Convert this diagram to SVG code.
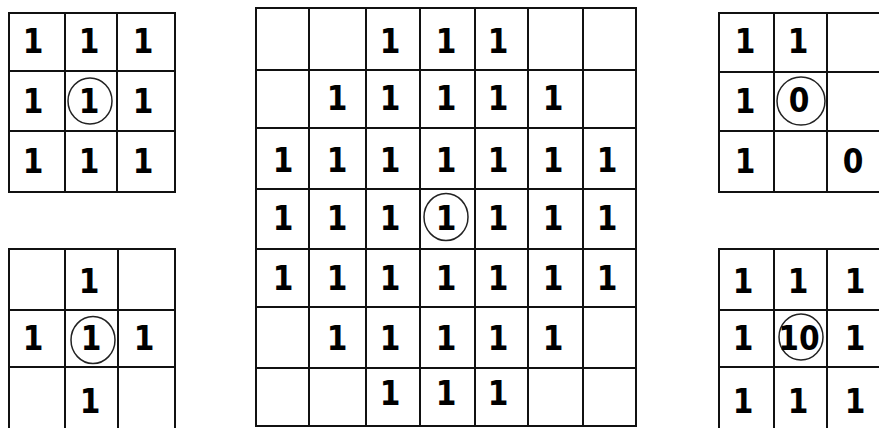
<svg xmlns="http://www.w3.org/2000/svg" width="879" height="428" viewBox="0 0 879 428">
<style>
.g{fill:none;stroke:#111;stroke-width:2}
.c{fill:none;stroke:#222;stroke-width:1.5}
.n circle{fill:#bbb}
text{font-family:"DejaVu Sans","Liberation Sans",sans-serif;font-weight:bold;font-stretch:condensed;font-size:33px;fill:#000;text-anchor:middle}
</style>
<rect width="879" height="428" fill="#fff"/>
<g id="grid-top-left">
<path class="g" d="M9,13H175V192H9Z M65,13V192 M117,13V192 M9,71H175 M9,131H175"/>
<ellipse class="c" cx="90" cy="101" rx="22" ry="23"/>
<text x="33" y="53">1</text><text x="89" y="53">1</text><text x="143" y="53">1</text>
<text x="33" y="113">1</text><text x="89" y="113">1</text><text x="143" y="113">1</text>
<text x="33" y="173">1</text><text x="89" y="173">1</text><text x="143" y="173">1</text>
</g>
<g id="grid-bottom-left">
<path class="g" d="M9,430V249H175V430 M65,249V430 M118,249V430 M9,310H175 M9,367H175"/>
<ellipse class="c" cx="93" cy="340" rx="22" ry="23.5"/>
<text x="89" y="293">1</text>
<text x="33" y="350">1</text><text x="91" y="350">1</text><text x="144" y="350">1</text>
<text x="90" y="413">1</text>
</g>
<g id="grid-middle">
<path class="g" d="M256,8H636V426H256Z M309,8V426 M366,8V426 M420,8V426 M475,8V426 M528,8V426 M583,8V426 M256,70H636 M256,128H636 M256,189H636 M256,249H636 M256,307H636 M256,368H636"/>
<ellipse class="c" cx="446" cy="217" rx="22" ry="23.5"/>
<text x="390" y="53">1</text><text x="446" y="53">1</text><text x="498" y="53">1</text>
<text x="337" y="110">1</text><text x="390" y="110">1</text><text x="446" y="110">1</text><text x="498" y="110">1</text><text x="553" y="110">1</text>
<text x="283" y="172">1</text><text x="337" y="172">1</text><text x="390" y="172">1</text><text x="446" y="172">1</text><text x="498" y="172">1</text><text x="553" y="172">1</text><text x="607" y="172">1</text>
<text x="283" y="230">1</text><text x="337" y="230">1</text><text x="390" y="230">1</text><text x="446" y="230">1</text><text x="498" y="230">1</text><text x="553" y="230">1</text><text x="607" y="230">1</text>
<text x="283" y="290">1</text><text x="337" y="290">1</text><text x="390" y="290">1</text><text x="446" y="290">1</text><text x="498" y="290">1</text><text x="553" y="290">1</text><text x="607" y="290">1</text>
<text x="337" y="350">1</text><text x="390" y="350">1</text><text x="446" y="350">1</text><text x="498" y="350">1</text><text x="553" y="350">1</text>
<text x="390" y="405">1</text><text x="446" y="405">1</text><text x="498" y="405">1</text>
</g>
<g id="grid-top-right">
<path class="g" d="M882,13H719V192H882 M774,13V192 M827,13V192 M719,72H882 M719,131H882"/>
<ellipse class="c" cx="801" cy="101" rx="24" ry="24"/>
<text x="745" y="53">1</text><text x="798" y="53">1</text>
<text x="745" y="113">1</text><text x="799" y="112">0</text>
<text x="745" y="173">1</text><text x="853" y="173">0</text>
</g>
<g id="grid-bottom-right">
<path class="g" d="M882,249H719V430 M774,249V430 M827,249V430 M719,310H882 M719,367H882"/>
<ellipse class="c" cx="801" cy="337" rx="22" ry="23"/>
<text x="743" y="293">1</text><text x="798" y="293">1</text><text x="855" y="293">1</text>
<text x="743" y="350">1</text><text x="799" y="350">10</text><text x="855" y="350">1</text>
<text x="743" y="413">1</text><text x="798" y="413">1</text><text x="855" y="413">1</text>
</g>
</svg>
